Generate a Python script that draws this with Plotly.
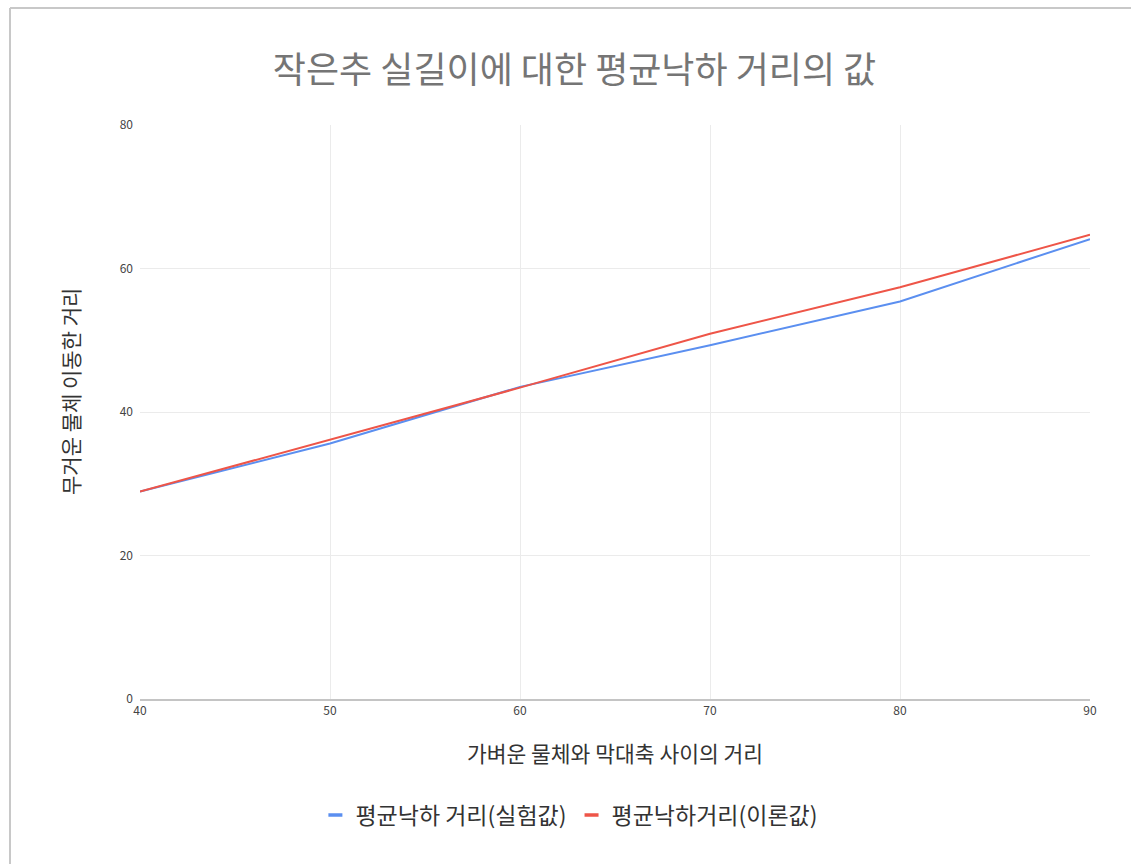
import plotly.graph_objects as go

x_vals = [40, 50, 60, 70, 80, 90]
exp_vals = [28.9, 35.6, 43.5, 49.3, 55.4, 64.1]
theory_vals = [28.9, 36.1, 43.4, 50.9, 57.4, 64.7]
series_names = ["평균낙하 거리(실험값)", "평균낙하거리(이론값)"]
series_colors = ["#5b8ff0", "#ee5548"]
title_text = "작은추 실길이에 대한 평균낙하 거리의 값"
x_title = "가벼운 물체와 막대축 사이의 거리"
y_title = "무거운 물체 이동한 거리"

FONT = "Noto Sans CJK KR"

fig = go.Figure()
for yv, name, col in zip([exp_vals, theory_vals], series_names, series_colors):
    fig.add_trace(go.Scatter(x=x_vals, y=yv, mode="lines", name=name, showlegend=False,
                             legendgroup=name, line=dict(color=col, width=2)))
for name, col in zip(series_names, series_colors):
    fig.add_trace(go.Scatter(x=[None], y=[None], mode="markers", name=name, legendgroup=name,
                             marker=dict(symbol="line-ew", size=10,
                                         line=dict(color=col, width=3.5))))

fig.update_layout(
    width=1131, height=864,
    margin=dict(l=140, r=41, t=125, b=165),
    paper_bgcolor="white", plot_bgcolor="white",
    font=dict(family=FONT, color="#444444"),
    title=dict(text=title_text, x=0.508, xref="container", xanchor="center",
               y=1 - 70 / 864, yref="container", yanchor="middle",
               font=dict(size=36, color="#757575", family=FONT)),
    showlegend=True,
    legend=dict(orientation="h", x=0.452, xanchor="center", y=-0.202, yanchor="middle",
                font=dict(size=23, color="#333333", family=FONT), itemwidth=30,
                bgcolor="rgba(0,0,0,0)"),
)
fig.update_xaxes(range=[40, 90], dtick=10, tick0=40, showgrid=True, gridcolor="#ebebeb",
                 zeroline=False, showline=True, linecolor="#c4c4c4", linewidth=2,
                 ticks="", tickfont=dict(size=12, color="#444444"),
                 title=dict(text=x_title, standoff=30, font=dict(size=21.5, color="#333333")))
fig.update_yaxes(range=[0, 80], dtick=20, showgrid=True, gridcolor="#ebebeb",
                 zeroline=False, showline=False, ticks="", ticklabelstandoff=6,
                 tickfont=dict(size=12, color="#444444"))

# y-axis title as a rotated annotation
fig.add_annotation(text=y_title, xref="paper", yref="paper",
                   x=(70 - 140) / 950, y=(699 - 392) / 574, xanchor="center", yanchor="middle",
                   textangle=-90, showarrow=False, font=dict(size=21, color="#333333", family=FONT))

# outer screenshot frame lines (left and top)
fig.add_shape(type="line", xref="paper", yref="paper",
              x0=(10 - 140) / 950, x1=(10 - 140) / 950, y0=(699 - 864) / 574, y1=(699 - 8) / 574,
              line=dict(color="#c8c8c8", width=2))
fig.add_shape(type="line", xref="paper", yref="paper",
              x0=(10 - 140) / 950, x1=(1131 - 140) / 950, y0=(699 - 8) / 574, y1=(699 - 8) / 574,
              line=dict(color="#c8c8c8", width=2))

fig.write_html("out.html")
